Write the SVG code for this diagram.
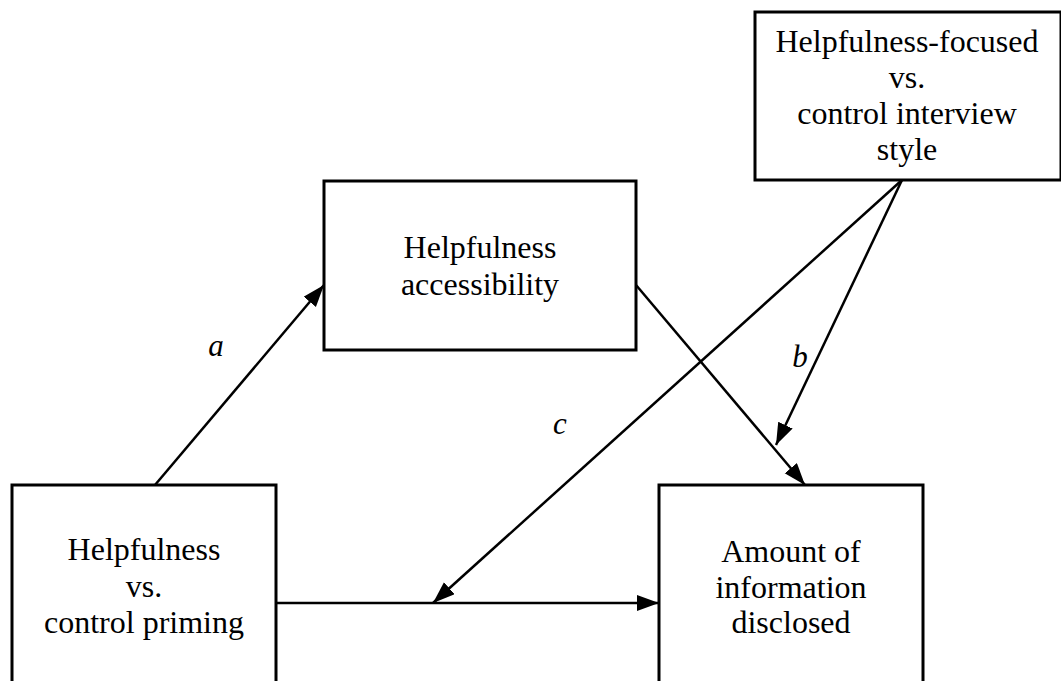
<svg xmlns="http://www.w3.org/2000/svg" width="1061" height="681" viewBox="0 0 1061 681">
<style>
.box{fill:#fff;stroke:#000;stroke-width:3}
.t{font-family:"Liberation Serif","Times New Roman",serif;font-size:32px;fill:#000;text-anchor:middle}
.lab{font-family:"Liberation Serif","Times New Roman",serif;font-size:31px;font-style:italic;fill:#000;text-anchor:middle}
.c{stroke:#000;stroke-width:2.5;fill:none;marker-end:url(#ah)}
</style>
<defs>
<marker id="ah" markerUnits="userSpaceOnUse" markerWidth="24" markerHeight="18" refX="22" refY="8" orient="auto">
<path d="M0,0 L22,8 L0,16 z" fill="#000"/>
</marker>
</defs>
<rect width="1061" height="681" fill="#fff"/>
<g id="connectors">
<line class="c" x1="155" y1="485" x2="324" y2="285"/>
<line class="c" x1="636" y1="285" x2="805" y2="485"/>
<line class="c" x1="902" y1="180" x2="776" y2="445"/>
<line class="c" x1="902" y1="180" x2="433" y2="603"/>
<line class="c" x1="276" y1="603" x2="659" y2="603"/>
</g>
<g id="node-style">
<rect class="box" x="755" y="12" width="306" height="168"/>
<text class="t" x="907" y="52">Helpfulness-focused</text>
<text class="t" x="907" y="88">vs.</text>
<text class="t" x="907" y="124">control interview</text>
<text class="t" x="907" y="160">style</text>
</g>
<g id="node-accessibility">
<rect class="box" x="324" y="181" width="312" height="169"/>
<text class="t" x="480" y="258">Helpfulness</text>
<text class="t" x="480" y="295">accessibility</text>
</g>
<g id="node-priming">
<rect class="box" x="12" y="485" width="264" height="210"/>
<text class="t" x="144" y="560">Helpfulness</text>
<text class="t" x="144" y="597">vs.</text>
<text class="t" x="144" y="633">control priming</text>
</g>
<g id="node-outcome">
<rect class="box" x="659" y="485" width="264" height="210"/>
<text class="t" x="791" y="562">Amount of</text>
<text class="t" x="791" y="598">information</text>
<text class="t" x="791" y="633">disclosed</text>
</g>
<g id="labels">
<text class="lab" x="216" y="356">a</text>
<text class="lab" x="800" y="367">b</text>
<text class="lab" x="560" y="434">c</text>
</g>
</svg>
